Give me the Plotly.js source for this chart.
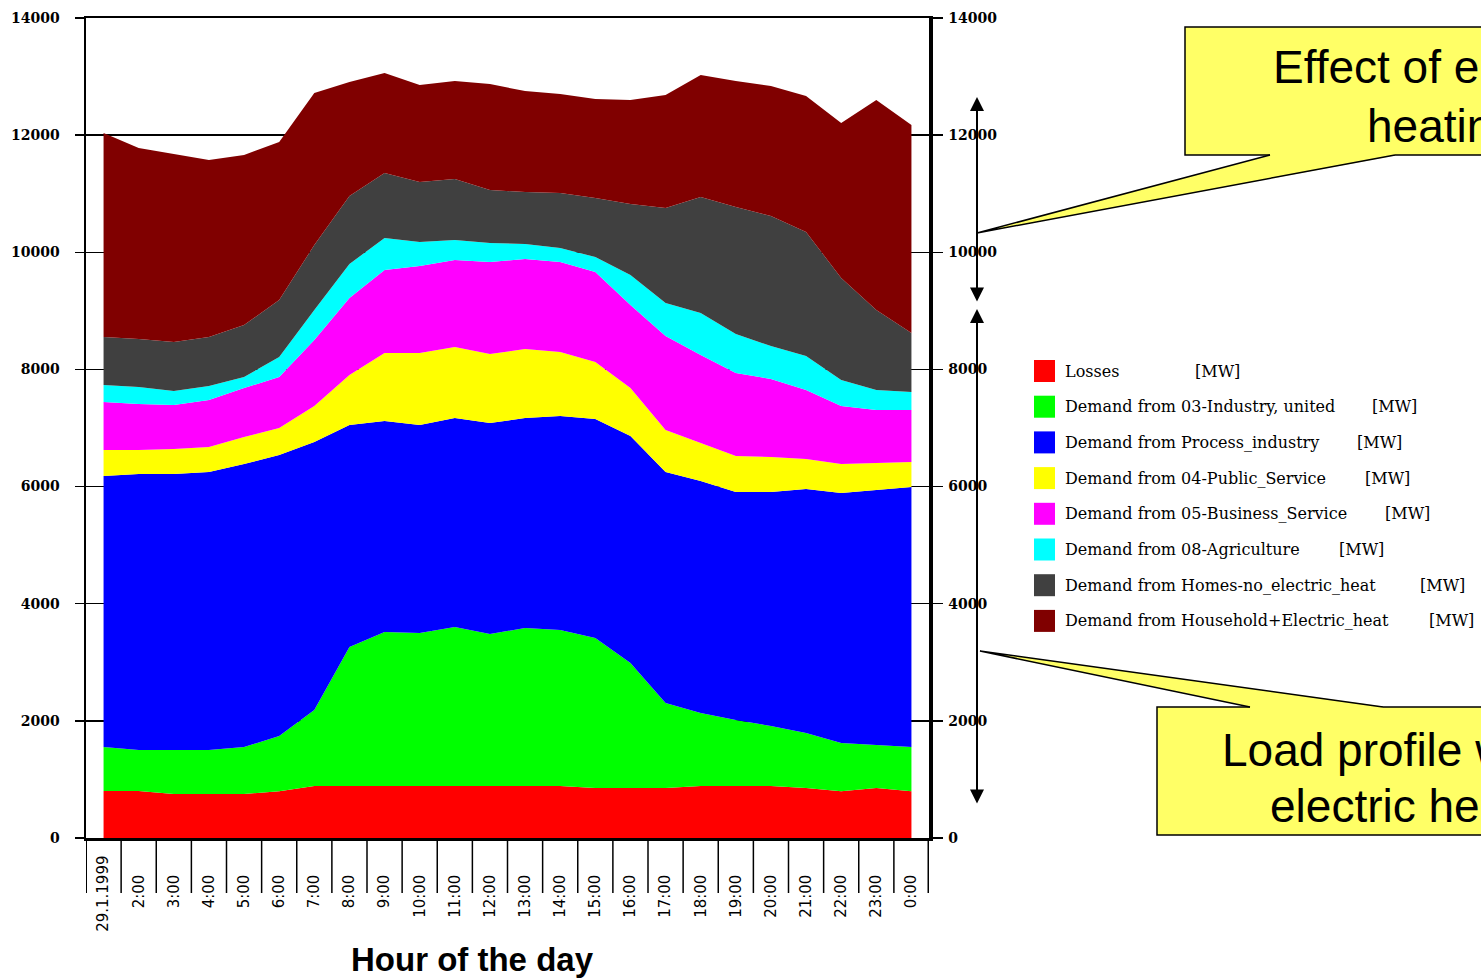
<!DOCTYPE html>
<html>
<head>
<meta charset="utf-8">
<script src="https://cdn.plot.ly/plotly-3.0.1.min.js"></script>
<style>
html,body{margin:0;padding:0;background:#ffffff;}
#chart{width:1481px;height:978px;}
</style>
</head>
<body>
<div id="chart"></div>
<script>
// ---------------- data ----------------
const hours = [1,2,3,4,5,6,7,8,9,10,11,12,13,14,15,16,17,18,19,20,21,22,23,24];
const hourLabels = ["29.1.1999","2:00","3:00","4:00","5:00","6:00","7:00","8:00","9:00","10:00","11:00","12:00",
                    "13:00","14:00","15:00","16:00","17:00","18:00","19:00","20:00","21:00","22:00","23:00","0:00"];
const seriesNames = ["Losses",
                     "Demand from 03-Industry, united",
                     "Demand from Process_industry",
                     "Demand from 04-Public_Service",
                     "Demand from 05-Business_Service",
                     "Demand from 08-Agriculture",
                     "Demand from Homes-no_electric_heat",
                     "Demand from Household+Electric_heat"];
const unitLabel = "[MW]";
const yTicks = [0,2000,4000,6000,8000,10000,12000,14000];
const yTickLabels = ["0","2000","4000","6000","8000","10000","12000","14000"];

const losses        = [802,802,751,751,751,800,888,888,888,888,888,888,888,888,854,854,854,888,888,888,854,800,854,800];
const industry      = [751,700,751,751,802,941,1297,2373,2629,2612,2714,2595,2697,2663,2560,2134,1451,1246,1127,1024,939,822,734,753];
const processInd    = [4627,4712,4712,4746,4832,4798,4576,3790,3602,3551,3569,3602,3586,3654,3740,3875,3944,3961,3892,3995,4165,4268,4353,4439];
const publicService = [444,410,427,427,461,461,614,854,1161,1229,1212,1178,1177,1092,973,820,717,648,615,598,513,495,461,427];
const business      = [820,786,752,803,837,871,1127,1314,1418,1486,1485,1571,1537,1537,1536,1417,1605,1503,1417,1332,1178,991,905,888];
const agriculture   = [290,290,239,239,188,341,513,581,546,409,342,324,256,239,256,512,563,717,665,563,580,443,342,308];
const homesNoHeat   = [819,819,836,836,887,973,1109,1161,1110,1025,1041,905,888,939,1008,1212,1622,1981,2169,2219,2117,1742,1366,1007];
const householdHeat = [3484,3261,3210,3023,2903,2698,2595,1946,1707,1656,1673,1810,1724,1690,1690,1776,1929,2082,2151,2220,2322,2646,3585,3551];

const calloutTop = ["Effect of electric", "heating"];
const calloutBottom = ["Load profile without", "electric heating"];

// ---------------- styling ----------------
const colors = ["#ff0000","#00ff00","#0000ff","#ffff00","#ff00ff","#00ffff","#404040","#800000"];
const seriesValues = [losses, industry, processInd, publicService, business, agriculture, homesNoHeat, householdHeat];

const W = 1481, H = 978;
const M = {l:86, r:W-929, t:18, b:H-838};
const PW = W - M.l - M.r, PH = H - M.t - M.b;
const X = px => (px - M.l) / PW;      // pixel -> paper x
const Y = py => (M.t + PH - py) / PH; // pixel -> paper y

const traces = seriesValues.map((vals, i) => ({
  type: 'scatter', mode: 'lines', x: hours, y: vals, name: seriesNames[i],
  stackgroup: 'one', line: {width: 0, color: colors[i]}, fillcolor: colors[i],
  showlegend: false, hovertemplate: '%{y} MW<extra>' + seriesNames[i] + '</extra>'
}));
traces.push({type:'scatter', x: [], y: [], yaxis: 'y2', showlegend: false, hoverinfo: 'skip'});

const nb = '\u00a0';
const tickText = hourLabels.map((t, i) => i === 0 ? t : t + nb.repeat(4));

const shapes = [];
const annotations = [];

// separators below the x axis
for (let k = 0; k <= hours.length; k++) {
  shapes.push({type:'line', xref:'x', yref:'paper', x0: k + 0.5, x1: k + 0.5, y0: 0, y1: Y(893),
               line:{color:'black', width: (k === 0 ? 2 : (k === hours.length ? 3 : 1.5))}});
}

// legend (custom squares + text)
const rowC0 = 371, rowStep = 35.7;
const unitX = [1193,1370,1355,1363,1383,1337,1418,1427];
seriesNames.forEach((nm, i) => {
  const cy = rowC0 + i * rowStep;
  shapes.push({type:'rect', xref:'paper', yref:'paper', x0: X(1034), x1: X(1055), y0: Y(cy + 11), y1: Y(cy - 11),
               fillcolor: colors[i], line:{width:0}});
  annotations.push({xref:'paper', yref:'paper', x: X(1063), y: Y(cy), xanchor:'left', yanchor:'middle',
                    text: nm, showarrow:false, font:{family:'DejaVu Serif', size:16, color:'black'}});
  annotations.push({xref:'paper', yref:'paper', x: X(unitX[i]), y: Y(cy), xanchor:'left', yanchor:'middle',
                    text: unitLabel, showarrow:false, font:{family:'DejaVu Serif', size:16, color:'black'}});
});

// callout boxes
const yellow = '#ffff66';
shapes.push({type:'rect', xref:'paper', yref:'paper', x0: X(1185), x1: X(1760), y0: Y(155), y1: Y(27),
             fillcolor: yellow, line:{color:'black', width:1.5}});
shapes.push({type:'path', xref:'paper', yref:'paper',
             path:`M ${X(977)} ${Y(233)} L ${X(1270)} ${Y(155.5)} L ${X(1270)} ${Y(151)} L ${X(1395)} ${Y(151)} L ${X(1395)} ${Y(155.5)} Z`,
             fillcolor: yellow, line:{width:0}});
shapes.push({type:'path', xref:'paper', yref:'paper',
             path:`M ${X(1270)} ${Y(155)} L ${X(977)} ${Y(233)} L ${X(1395)} ${Y(155)}`,
             fillcolor:'rgba(0,0,0,0)', line:{color:'black', width:1.5}});

shapes.push({type:'rect', xref:'paper', yref:'paper', x0: X(1157), x1: X(1760), y0: Y(835), y1: Y(707),
             fillcolor: yellow, line:{color:'black', width:1.5}});
shapes.push({type:'path', xref:'paper', yref:'paper',
             path:`M ${X(980)} ${Y(651)} L ${X(1250)} ${Y(706.5)} L ${X(1250)} ${Y(711)} L ${X(1383)} ${Y(711)} L ${X(1383)} ${Y(706.5)} Z`,
             fillcolor: yellow, line:{width:0}});
shapes.push({type:'path', xref:'paper', yref:'paper',
             path:`M ${X(1250)} ${Y(707)} L ${X(980)} ${Y(651)} L ${X(1383)} ${Y(707)}`,
             fillcolor:'rgba(0,0,0,0)', line:{color:'black', width:1.5}});

const calloutFont = {family:'Liberation Sans, Arial, sans-serif', size:46, color:'black'};
annotations.push({xref:'paper', yref:'paper', x: X(1271), y: Y(67), xanchor:'left', yanchor:'middle',
                  text: calloutTop[0], showarrow:false, font: calloutFont});
annotations.push({xref:'paper', yref:'paper', x: X(1365), y: Y(126), xanchor:'left', yanchor:'middle',
                  text: calloutTop[1], showarrow:false, font: calloutFont});
annotations.push({xref:'paper', yref:'paper', x: X(1220), y: Y(750), xanchor:'left', yanchor:'middle',
                  text: calloutBottom[0], showarrow:false, font: calloutFont});
annotations.push({xref:'paper', yref:'paper', x: X(1268), y: Y(806), xanchor:'left', yanchor:'middle',
                  text: calloutBottom[1], showarrow:false, font: calloutFont});

// double arrows
const arrowCommon = {xref:'paper', yref:'paper', text:'', showarrow:true, axref:'pixel', ayref:'pixel', ax:0,
                     arrowside:'end+start', arrowhead:2, startarrowhead:2, arrowsize:1.4, startarrowsize:1.4,
                     arrowwidth:2, arrowcolor:'black', standoff:0, startstandoff:0};
annotations.push(Object.assign({}, arrowCommon, {x: X(977), y: Y(97), ay: 303 - 97}));
annotations.push(Object.assign({}, arrowCommon, {x: X(977), y: Y(309), ay: 805 - 309}));

// x axis title
annotations.push({xref:'paper', yref:'paper', x: X(472), y: Y(960), xanchor:'center', yanchor:'middle',
                  text:'Hour of the day', showarrow:false,
                  font:{family:'Liberation Sans, Arial, sans-serif', size:33, weight:'bold', color:'black'}});

const tickFontY = {family:'DejaVu Serif', size:14, weight:'bold', color:'black'};

const layout = {
  width: W, height: H,
  margin: M,
  paper_bgcolor: '#ffffff', plot_bgcolor: '#ffffff',
  showlegend: false,
  xaxis: {
    range: [0.5, 24.5], tickmode: 'array', tickvals: hours, ticktext: tickText, tickangle: -90,
    ticks: '', showgrid: false, zeroline: false, showline: true, linecolor: 'black', linewidth: 2.5,
    mirror: true, ticklabelstandoff: 9,
    tickfont: {family:'DejaVu Sans', size:15, color:'black'}, fixedrange: true
  },
  yaxis: {
    range: [0, 14000], tickmode: 'array', tickvals: yTicks, ticktext: yTickLabels, ticks: 'outside', ticklen: 9,
    tickwidth: 1.5, tickcolor: 'black', showline: true, linecolor: 'black', linewidth: 2.5, showgrid: true,
    gridcolor: 'black', gridwidth: 1.5, zeroline: false, tickfont: tickFontY, ticklabelstandoff: 12,
    fixedrange: true
  },
  yaxis2: {
    range: [0, 14000], overlaying: 'y', side: 'right', anchor: 'x', tickmode: 'array', tickvals: yTicks,
    ticktext: yTickLabels, ticks: 'outside', ticklen: 10, tickwidth: 1.5, tickcolor: 'black', showline: true,
    linecolor: 'black', linewidth: 3.5, showgrid: false, zeroline: false, tickfont: tickFontY,
    ticklabelstandoff: 3, fixedrange: true
  },
  shapes: shapes,
  annotations: annotations
};

Plotly.newPlot('chart', traces, layout, {displayModeBar: false, staticPlot: true});
</script>
</body>
</html>
